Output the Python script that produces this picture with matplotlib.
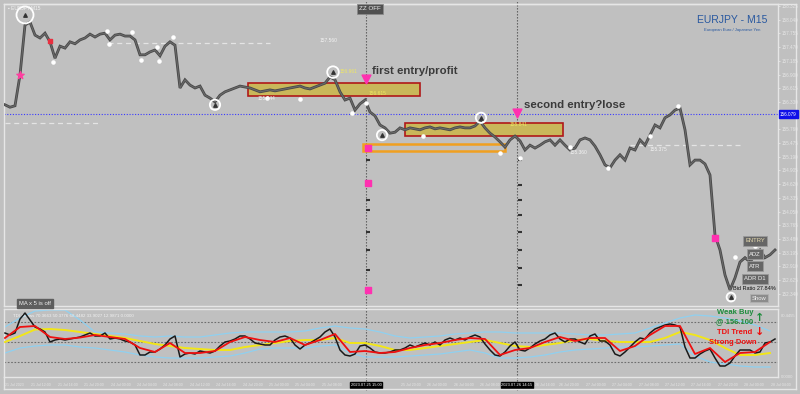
import matplotlib
matplotlib.use('Agg')
import matplotlib.pyplot as plt
from matplotlib.patches import Rectangle
from matplotlib.lines import Line2D

W, H = 800, 394
BG = '#c0c0c0'
FRAME = '#e6e6e6'
plt.rcParams['font.family'] = ['Liberation Sans', 'DejaVu Sans']

# ---------------- data ----------------
symbol = 'EURJPY - M15'
subtitle = 'European Euro / Japanese Yen'

# close prices, one point per ~3 M15 bars
price = [156.27, 156.22, 156.25, 156.89, 157.93, 157.99, 157.72, 157.66, 157.76, 157.58,
         157.24, 157.49, 157.45, 157.58, 157.54, 157.62, 157.66, 157.74, 157.68, 157.74,
         157.76, 157.62, 157.72, 157.74, 157.70, 157.70, 157.62, 157.31, 157.31, 157.37,
         157.41, 157.29, 157.49, 157.58, 157.51, 156.62, 156.79, 156.68, 156.62, 156.66,
         156.47, 156.41, 156.33, 156.47, 156.54, 156.58, 156.62, 156.66, 156.64, 156.62,
         156.58, 156.54, 156.56, 156.58, 156.56, 156.58, 156.60, 156.62, 156.64, 156.66,
         156.62, 156.60, 156.64, 156.68, 156.72, 156.85, 156.79, 156.54, 156.37, 156.41,
         156.16, 156.29, 156.37, 156.12, 156.04, 155.85, 155.79, 155.68, 155.70, 155.79,
         155.75, 155.79, 155.77, 155.75, 155.79, 155.81, 155.77, 155.79, 155.77, 155.75,
         155.79, 155.81, 155.79, 155.79, 155.83, 155.93, 155.79, 155.68, 155.60, 155.50,
         155.39, 155.54, 155.62, 155.52, 155.33, 155.43, 155.37, 155.43, 155.50, 155.54,
         155.43, 155.54, 155.43, 155.33, 155.37, 155.54, 155.58, 155.54, 155.41, 155.23,
         155.02, 154.96, 155.12, 155.23, 155.12, 155.37, 155.33, 155.54, 155.43, 155.64,
         155.85, 155.79, 156.00, 156.06, 156.16, 156.20, 155.75, 155.02, 155.12, 155.12,
         155.04, 154.81, 153.56, 153.25, 152.73, 152.42, 152.67, 153.00, 153.09, 153.00,
         153.15, 153.25, 153.09, 153.15, 153.25]

# TDI indicator
tdi_rsi = [58.1, 56.3, 58.1, 70.7, 76.1, 69.8, 63.5, 61.7, 59, 50,
           51.8, 52.7, 51.8, 52.7, 53.6, 54.5, 56.3, 58.1, 55.4, 55.4,
           58.1, 52.7, 53.6, 52.7, 50.9, 50, 47.3, 38.3, 38.3, 41,
           41, 43.7, 47.3, 52.7, 55.4, 36.5, 39.2, 40.1, 39.2, 41.9,
           41, 40.1, 41.9, 46.4, 50, 50.9, 52.7, 55.4, 55.4, 52.7,
           49.1, 48.2, 47.3, 47.3, 51.8, 54.5, 55.4, 53.6, 47.3, 43.7,
           47.3, 49.1, 51.8, 54.5, 59, 61.7, 54.5, 42.8, 38.3, 37.4,
           39.2, 46.4, 47.3, 44.6, 41, 40.1, 40.1, 41, 42.8, 42.8,
           44.6, 47.3, 45.5, 47.3, 49.1, 47.3, 50, 47.3, 51.8, 53.6,
           51.8, 53.6, 51.8, 54.5, 56.3, 54.5, 48.2, 42.8, 38.3, 37.4,
           41, 46.4, 50, 42.8, 41.9, 44.6, 48.2, 50.9, 52.7, 56.3,
           58.1, 52.7, 50, 52.7, 52.7, 50, 48.2, 55.4, 57.2, 50.9,
           50.9, 47.3, 39.2, 37.4, 41, 45.5, 50, 53.6, 52.7, 58.1,
           61.7, 63.5, 65.3, 66.2, 65.3, 63.5, 45.5, 35.6, 35.6, 39.2,
           41.9, 43.7, 35.6, 28.4, 28.4, 31.1, 37.4, 42.8, 42.8, 42.8,
           40.1, 41, 49.1, 50, 52.7]
smooth_idx = list(range(0, 155, 3))
tdi_signal = [53.6, 63.5, 64.4, 54.5, 52.7, 54, 56.3, 54.5, 52.7, 44.6,
              41, 49.1, 40.1, 40.1, 41.9, 50, 54.5, 51.8, 50, 53.6,
              47.3, 51.8, 57.2, 41, 41.9, 40.1, 41, 44.6, 47.3, 49.1,
              51.8, 53.6, 52.7, 38.3, 42.8, 44.6, 50, 54.5, 50.9, 53.6,
              53.6, 41.9, 46.4, 56.3, 64.4, 64.4, 39.2, 44.6, 32, 40.1,
              41, 50]
tdi_base = [50, 55.4, 61.2, 61.7, 60.8, 59, 57.2, 55.4, 53.6, 50.9,
            48.2, 46.4, 44.6, 43.7, 42.8, 42.8, 45.5, 47.3, 49.1, 50.9,
            51.8, 51.8, 53.6, 49.1, 49.1, 46.4, 42.8, 42.8, 44.6, 46.4,
            48.2, 50, 51.8, 49.1, 46.4, 45.5, 47.3, 49.1, 51.8, 52.7,
            50.9, 50, 50, 50, 53.6, 59, 56.3, 51.8, 44.6, 38.3,
            38.3, 40.1]
tdi_upper = [63.5, 71.6, 77.9, 78.8, 78.8, 69.8, 59, 58.1, 57.2, 55.4,
             54.5, 55.4, 54.5, 54.5, 56.3, 58.1, 59, 59, 59, 59,
             59.9, 62.6, 64.4, 62.6, 61.7, 59, 55.4, 53.6, 54.5, 55.4,
             57.2, 58.1, 59, 59, 58.1, 58.1, 58.1, 58.1, 57.2, 56.3,
             56.3, 57.2, 58.1, 62.6, 67.1, 71.6, 74.3, 73.4, 71.6, 68.9,
             65.3, 59.9]
tdi_lower = [40.1, 44.6, 46.4, 47.3, 47.3, 45.5, 44.6, 42.8, 41, 38.3,
             36.5, 35.6, 35.6, 35.6, 36.5, 37.4, 40.1, 43.7, 44.6, 44.6,
             44.6, 46.4, 47.3, 40.1, 36.5, 36.5, 36.5, 37.4, 38.3, 39.2,
             41, 42.8, 40.1, 35.6, 35.6, 36.5, 38.3, 41, 42.8, 43.7,
             44.6, 45.5, 45.5, 46.4, 47.3, 48.2, 37.4, 32, 30.2, 28.4,
             27.5, 27.5]
tdi_levels = [68, 50, 32]

price_ticks = [158.325, 158.040, 157.755, 157.470, 157.185, 156.900, 156.615, 156.330,
               156.045, 155.760, 155.475, 155.190, 154.905, 154.620, 154.335, 154.050,
               153.765, 153.480, 153.195, 152.910, 152.625, 152.340]
bid_price = 156.079

time_labels = ['21 Jul 2023', '21 Jul 12:00', '21 Jul 16:00', '21 Jul 20:00', '24 Jul 00:00',
               '24 Jul 04:00', '24 Jul 08:00', '24 Jul 12:00', '24 Jul 16:00', '24 Jul 20:00',
               '25 Jul 00:00', '25 Jul 04:00', '25 Jul 08:00', '25 Jul 12:00', '25 Jul 16:00',
               '25 Jul 20:00', '26 Jul 00:00', '26 Jul 04:00', '26 Jul 08:00', '26 Jul 12:00',
               '26 Jul 16:00', '26 Jul 20:00', '27 Jul 00:00', '27 Jul 04:00', '27 Jul 08:00',
               '27 Jul 12:00', '27 Jul 16:00', '27 Jul 20:00', '28 Jul 00:00', '28 Jul 04:00']
time_label_step = 5.28   # data points between two time labels

entries = [(72.2, '2023.07.25 15:00', 'first entry/profit', 156.80),
           (102.4, '2023.07.26 14:15', 'second entry?lose', 156.10)]

# zones: (start idx, end idx, low, high)
supply_zones = [(48.6, 83.0, 156.45, 156.72), (80.0, 111.6, 155.62, 155.89)]
orange_zone = (71.6, 100.0, 155.31, 155.455)

swing_idx = [4, 42, 65.6, 75.4, 95.2, 145.2]
swing_price = [158.14, 156.27, 156.95, 155.64, 156.00, 152.27]
swing_size = [150, 55, 70, 55, 55, 40]

pivot_idx = [9.6, 20.4, 20.7, 25.4, 27.2, 30.3, 30.8, 33.6, 52.4, 59.0, 69.4, 72.2, 83.6, 99.0, 103.0,
             113.0, 120.6, 129.0, 134.6, 146.0, 150.0]
pivot_price = [157.16, 157.81, 157.53, 157.78, 157.20, 157.47, 157.18, 157.68, 156.41, 156.39,
               156.10, 156.31, 155.62, 155.27, 155.16, 155.40, 154.96, 155.62, 156.25, 153.10, 153.33]

ladder1 = [155.12, 154.29, 154.08, 153.62, 153.25, 152.83]
ladder2 = [155.12, 154.60, 154.29, 153.98, 153.62, 153.25, 152.88, 152.52]
pink_marks_idx = [72.6, 72.6, 72.6, 142.0]
pink_marks_price = [155.38, 154.64, 152.42, 153.50]

# ---------------- helpers ----------------
def fx(x):
    return x / W

def fy(y):
    return 1 - y / H

def rect(x0, y0, x1, y1):
    return [x0 / W, 1 - y1 / H, (x1 - x0) / W, (y1 - y0) / H]

XLIM = (-0.2, 154.6)

fig = plt.figure(figsize=(8.0, 3.94), dpi=100, facecolor=BG)

# background axis spanning full height (for vertical entry lines & time labels)
bg = fig.add_axes(rect(4, 0, 778, 394), zorder=0)
bg.set_xlim(*XLIM)
bg.set_ylim(0, 1)
bg.axis('off')
for ix, *_ in entries:
    bg.axvline(ix, ymin=1 - 390 / 394, ymax=1.0, color='#555555', lw=0.8, ls=(0, (1.2, 1.5)))

ax = fig.add_axes(rect(4, 4, 778, 306), zorder=1)
ax.set_facecolor('none')
ax2 = fig.add_axes(rect(4, 309, 778, 377), zorder=1, sharex=ax)
ax2.set_facecolor('none')

idx = list(range(len(price)))
ax.set_xlim(*XLIM)
ax.set_ylim(152.085, 158.367)

# supply zones
for (a, b, lo, hi) in supply_zones:
    ax.add_patch(Rectangle((a, lo), b - a, hi - lo, facecolor='#c9b75a', edgecolor='#b01818',
                           lw=1.2, zorder=2))
a, b, lo, hi = orange_zone
ax.add_patch(Rectangle((a, lo), b - a, hi - lo, facecolor='none', edgecolor='#f0a020',
                       lw=1.8, zorder=2))

# horizontal dashed light lines
ax.hlines(157.56, 20.6, 53, color='#e4e4e4', lw=0.9, ls=(0, (4, 3)), zorder=1)
ax.hlines(155.89, 0, 19, color='#e4e4e4', lw=0.9, ls=(0, (4, 3)), zorder=1)
ax.hlines(155.43, 125, 147, color='#e4e4e4', lw=0.9, ls=(0, (4, 3)), zorder=1)
# bid line
ax.axhline(bid_price, color='#3a3aff', lw=0.8, ls=(0, (1, 1.5)), zorder=1)

# price line
ax.plot(idx, price, color='#484848', lw=2.0, zorder=3, solid_joinstyle='miter')
ax.plot(idx, price, color='#6a6a6a', lw=0.8, zorder=3)

# swing circles
ax.scatter(swing_idx, swing_price, s=swing_size, facecolors='none', edgecolors='white',
           lw=1.3, zorder=5)
ax.scatter(swing_idx, swing_price, s=6, marker='^', color='#333333', zorder=6)
ax.scatter(pivot_idx, pivot_price, s=5, color='white', zorder=5)

# pink marks
ax.scatter([3], [156.89], s=30, marker='*', color='#ff3fa0', zorder=6)
ax.scatter([9], [157.60], s=10, marker='s', color='#e83040', zorder=6)
ax.scatter(pink_marks_idx, pink_marks_price, s=14, marker='s', color='#ff30b0', zorder=6)
for ix, _, label, ay in entries:
    ax.scatter([ix], [ay], s=40, marker='v', color='#ff30b0', zorder=6)
ax.scatter([72.6] * len(ladder1), ladder1, s=8, marker='_', color='#333333', zorder=4)
ax.scatter([103.0] * len(ladder2), ladder2, s=8, marker='_', color='#333333', zorder=4)

# entry texts
ax.text(73.4, 156.97, entries[0][2], fontsize=8.2, fontweight='bold', color='#3a3a3a',
        va='center', ha='left', zorder=7)
ax.text(103.8, 156.27, entries[1][2], fontsize=8.2, fontweight='bold', color='#3a3a3a',
        va='center', ha='left', zorder=7)

# small price labels
ax.text(67.0, 156.93, '156.961', fontsize=3.5, color='#f0e860', zorder=7)
ax.text(50.5, 156.37, '155.544', fontsize=3.5, color='#f4f4f4', zorder=7)
ax.text(72.8, 156.47, '156.615', fontsize=3.5, color='#f0e860', zorder=7)
ax.text(101.0, 155.83, '155.841', fontsize=3.5, color='#f0e860', zorder=7)
ax.text(113.0, 155.25, '155.360', fontsize=3.5, color='#f4f4f4', zorder=7)
ax.text(129.0, 155.30, '155.375', fontsize=3.5, color='#f4f4f4', zorder=7)
ax.text(63.0, 157.57, '157.560', fontsize=3.5, color='#f4f4f4', zorder=7)

# axis styling main
ax.yaxis.tick_right()
ax.set_yticks(price_ticks)
ax.set_yticklabels(['' if abs(p - bid_price) < 0.1 else '%.3f' % p for p in price_ticks])
ax.tick_params(axis='y', labelsize=3.3, colors=FRAME, length=1.5, width=0.6, pad=1.5)
ax.tick_params(axis='x', bottom=False, labelbottom=False)
for s in ax.spines.values():
    s.set_color(FRAME)
    s.set_linewidth(1.0)

# ---------------- TDI panel ----------------
ax2.set_ylim(18.5, 79.7)
for lv in tdi_levels:
    ax2.axhline(lv, color='#6e6e6e', lw=0.8, ls=(0, (1.5, 1.5)), zorder=1)
ax2.plot(smooth_idx, tdi_upper, color='#8fd0f0', lw=0.9, zorder=2)
ax2.plot(smooth_idx, tdi_lower, color='#8fd0f0', lw=0.9, zorder=2)
ax2.plot(smooth_idx, tdi_base, color='#f2e618', lw=1.4, zorder=3)
ax2.plot(idx, tdi_rsi, color='#1a1a1a', lw=1.1, zorder=4)
ax2.plot(smooth_idx, tdi_signal, color='#ee1010', lw=1.3, zorder=5)
ax2.set_yticks([])
ax2.tick_params(axis='x', bottom=False, labelbottom=False)
for s in ax2.spines.values():
    s.set_color(FRAME)
    s.set_linewidth(1.0)
ax2.text(0.012, 0.93, 'TDI Arrows 70.3663 50.3776 68.4482 33.9027 12.9871 0.0000',
         transform=ax2.transAxes, fontsize=3.2, color='#f2f2f2', va='top')

# TDI signal texts
fig.text(fx(735), fy(313), 'Weak Buy', fontsize=5.5, fontweight='bold', color='#1e8c3c',
         ha='center', va='center', zorder=10)
fig.text(fx(735), fy(322), '@ 156.100', fontsize=5.5, fontweight='bold', color='#1e8c3c',
         ha='center', va='center', zorder=10)
fig.text(fx(760), fy(318), '\u2191', fontsize=8, fontweight='bold', color='#1e8c3c',
         ha='center', va='center', zorder=10, family='DejaVu Sans')
fig.text(fx(735), fy(333), 'TDI Trend', fontsize=5.5, fontweight='bold', color='#ee1010',
         ha='center', va='center', zorder=10)
fig.text(fx(760), fy(332), '\u2193', fontsize=8, fontweight='bold', color='#ee1010',
         ha='center', va='center', zorder=10, family='DejaVu Sans')
fig.text(fx(733), fy(343), 'Strong Down', fontsize=5.5, fontweight='bold', color='#ee1010',
         ha='center', va='center', zorder=10)

# ---------------- figure decorations ----------------
fig.add_artist(Line2D([fx(796), fx(796)], [fy(4), fy(389)], color=FRAME, lw=1.0))
fig.add_artist(Line2D([fx(4), fx(796)], [fy(389), fy(389)], color=FRAME, lw=1.0))
fig.add_artist(Line2D([fx(4), fx(796)], [fy(4), fy(4)], color=FRAME, lw=1.0))
fig.add_artist(Line2D([fx(4), fx(4)], [fy(377), fy(389)], color=FRAME, lw=1.0))

# bid price highlight
fig.text(fx(780), fy(114), '%.3f' % bid_price, fontsize=3.3, color='white', va='center',
         ha='left', zorder=10,
         bbox=dict(boxstyle='square,pad=0.25', fc='#1010e8', ec='#1010e8'))
fig.text(fx(781), fy(316), '80.4455', fontsize=3.0, color=FRAME, va='center', ha='left')
fig.text(fx(781), fy(377), '0.0000', fontsize=3.0, color=FRAME, va='center', ha='left')

# time labels (labels under the entry-time boxes are hidden, as on the chart)
for k, lab in enumerate(time_labels):
    pos = k * time_label_step
    skip = False
    for ix, *_ in entries:
        if ix - 7.0 < pos < ix + 2.0:
            skip = True
        elif ix + 2.0 <= pos < ix + 3.6:
            pos = ix + 3.6
    if skip:
        continue
    bg.text(pos, 1 - 385 / 394, lab, fontsize=2.6, color=FRAME,
            ha='left', va='center', zorder=3)
for ix, lab, *_ in entries:
    bg.text(ix, 1 - 385 / 394, lab, fontsize=2.9, color='white', ha='center', va='center',
            zorder=5, bbox=dict(boxstyle='square,pad=0.15', fc='black', ec='black'))

# symbol title
fig.text(fx(732), fy(20), symbol, fontsize=7.5, color='#2858a0', ha='center', va='center')
fig.text(fx(732), fy(30), subtitle, fontsize=3.0, color='#2858a0', ha='center', va='center')
fig.text(fx(8), fy(8), '\u25aa EURJPY,M15', fontsize=3.5, color='#f4f4f4', ha='left',
         va='center')

# ZZ OFF button
fig.text(fx(370), fy(9), 'ZZ OFF', fontsize=4.5, color='#f0f0f0', ha='center', va='center',
         zorder=10, bbox=dict(boxstyle='square,pad=0.35', fc='#505050', ec='#8a8a8a', lw=0.6))
# MA label
fig.text(fx(19), fy(303.5), 'MA x 5 is off', fontsize=4.2, color='#f0f0f0', ha='left',
         va='center', zorder=10,
         bbox=dict(boxstyle='square,pad=0.3', fc='#5e5e5e', ec='#5e5e5e'))

# right side buttons
for (yy, lab, tc) in [(241, 'ENTRY', '#e8dcb0'), (254, 'ADZ', '#f0f0f0'),
                      (266, 'ATR', '#f0f0f0'), (279, 'ADR D1', '#f0f0f0')]:
    fig.text(fx(755), fy(yy), lab, fontsize=4.2, color=tc, ha='center', va='center', zorder=10,
             bbox=dict(boxstyle='square,pad=0.35', fc='#666666', ec='#9a9a9a', lw=0.6))
fig.text(fx(759), fy(298), 'Show', fontsize=4.2, color='#f0f0f0', ha='center', va='center',
         zorder=10, bbox=dict(boxstyle='square,pad=0.3', fc='#8c8c8c', ec='#b0b0b0', lw=0.6))
fig.text(fx(733), fy(289), 'Bid Ratio 27.84%', fontsize=4.0, color='#111111', ha='left',
         va='center', zorder=10)

fig.savefig('out.png', dpi=100, facecolor=BG)
